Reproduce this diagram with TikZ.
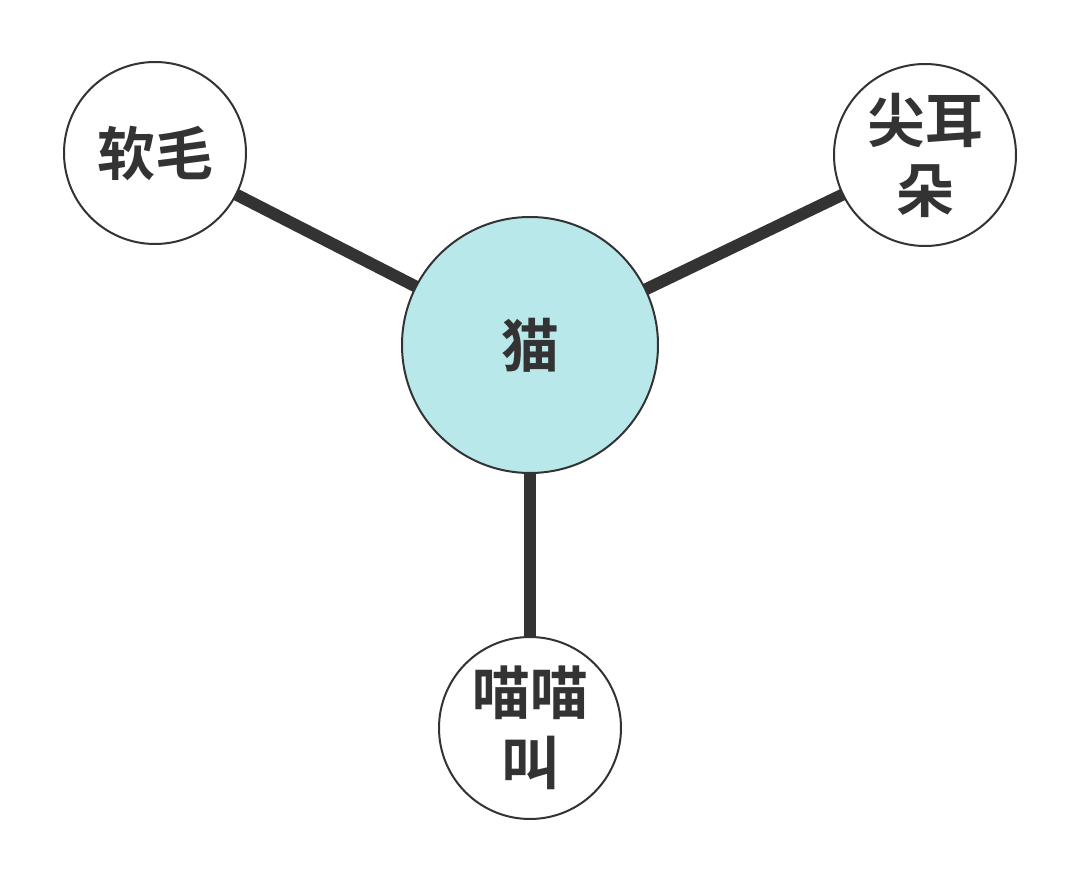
\documentclass[tikz,border=0pt]{standalone}
\usepackage{fontspec}
\usetikzlibrary{backgrounds}
\newfontfamily\cjk{Noto Sans CJK SC Bold}
\definecolor{ln}{HTML}{333333}
\definecolor{cfill}{HTML}{B8E8EA}
\begin{document}
\begin{tikzpicture}[x=1pt,y=-1pt,
  leaf/.style={circle,draw=ln,line width=2pt,fill=white,minimum size=182pt,inner sep=0pt,align=center,font=\cjk\fontsize{58}{70}\selectfont,text=ln},
  hub/.style={leaf,fill=cfill,minimum size=256pt},
  link/.style={ln,line width=12pt}]
\useasboundingbox (0,0) rectangle (1080,882);
\node[hub] (cat) at (530,345) {猫};
\node[leaf] (fur) at (155,153) {软毛};
\node[leaf] (ear) at (925,155) {尖耳\\朵};
\node[leaf] (meow) at (530,728) {喵喵\\叫};
\begin{scope}[on background layer]
\draw[link] (cat.center) -- (fur.center);
\draw[link] (cat.center) -- (ear.center);
\draw[link] (cat.center) -- (meow.center);
\end{scope}
\end{tikzpicture}
\end{document}
